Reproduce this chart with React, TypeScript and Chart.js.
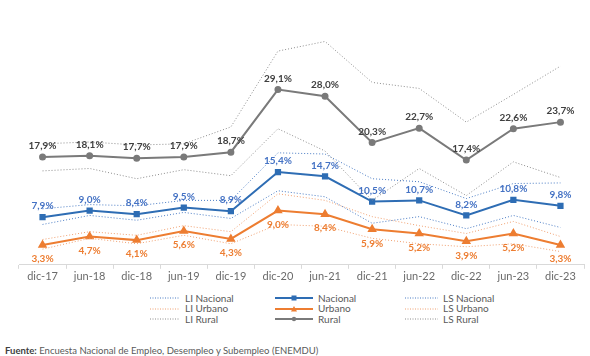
import React, { useEffect, useRef } from 'react';
import { Chart, registerables } from 'chart.js';
Chart.register(...registerables);

const categories = ['dic-17', 'jun-18', 'dic-18', 'jun-19', 'dic-19', 'dic-20', 'jun-21', 'dic-21', 'jun-22', 'dic-22', 'jun-23', 'dic-23'];

const nacional = [7.9, 9.0, 8.4, 9.5, 8.9, 15.4, 14.7, 10.5, 10.7, 8.2, 10.8, 9.8];
const urbano = [3.3, 4.7, 4.1, 5.6, 4.3, 9.0, 8.4, 5.9, 5.2, 3.9, 5.2, 3.3];
const rural = [17.9, 18.1, 17.7, 17.9, 18.7, 29.1, 28.0, 20.3, 22.7, 17.4, 22.6, 23.7];

const liNacional = [6.7, 8.2, 7.4, 8.7, 7.7, 12.3, 11.3, 6.9, 8.0, 6.0, 8.2, 6.2];
const lsNacional = [9.3, 10.0, 9.8, 10.7, 10.7, 18.6, 18.4, 14.3, 13.8, 11.0, 13.5, 13.6];
const liUrbano = [2.6, 4.4, 3.5, 4.9, 3.5, 6.7, 6.4, 4.4, 3.5, 3.0, 3.5, 2.2];
const lsUrbano = [4.2, 5.5, 4.9, 6.5, 5.5, 11.8, 10.7, 8.0, 6.5, 5.2, 7.2, 4.7];
const liRural = [15.6, 16.0, 14.3, 15.8, 14.8, 22.6, 18.9, 10.7, 16.0, 11.5, 17.1, 14.5];
const lsRural = [20.1, 20.4, 19.9, 20.1, 22.9, 35.5, 37.1, 30.3, 29.3, 23.7, 28.3, 33.0];

const BLUE = '#2e6db4';
const BLUE_LABEL = '#4472c4';
const BLUE_DOT = '#4a7cc4';
const ORANGE = '#ed7d31';
const ORANGE_DOT = '#f0a070';
const GRAY = '#7a7a7a';
const GRAY_DOT = '#8c8c8c';
const GRAY_LABEL = '#404040';
const FONT = 'Lato, "Open Sans", sans-serif';

const fmt = (v: number) => v.toFixed(1).replace('.', ',') + '%';

const labelPlugin = {
  id: 'valueLabels',
  afterDatasetsDraw(chart: any) {
    const ctx = chart.ctx;
    chart.data.datasets.forEach((ds: any, i: number) => {
      if (!ds.labelColor) return;
      const meta = chart.getDatasetMeta(i);
      meta.data.forEach((pt: any, j: number) => {
        ctx.save();
        ctx.font = 'bold 10px ' + FONT;
        ctx.fillStyle = ds.labelColor;
        ctx.textAlign = 'center';
        ctx.textBaseline = 'middle';
        ctx.fillText(fmt(ds.data[j]), pt.x, pt.y + ds.labelDy);
        ctx.restore();
      });
    });
  },
};

const dotted = (label: string, data: number[], color: string) => ({
  label,
  data,
  borderColor: color,
  borderWidth: 1,
  borderDash: [1, 2],
  pointRadius: 0,
  fill: false,
  tension: 0,
});

const legendCols = [
  [
    { label: 'LI Nacional', color: BLUE_DOT, dotted: true },
    { label: 'LI Urbano', color: ORANGE_DOT, dotted: true },
    { label: 'LI Rural', color: GRAY_DOT, dotted: true },
  ],
  [
    { label: 'Nacional', color: BLUE, marker: 'rect' },
    { label: 'Urbano', color: ORANGE, marker: 'tri' },
    { label: 'Rural', color: GRAY, marker: 'circle' },
  ],
  [
    { label: 'LS Nacional', color: BLUE_DOT, dotted: true },
    { label: 'LS Urbano', color: ORANGE_DOT, dotted: true },
    { label: 'LS Rural', color: GRAY_DOT, dotted: true },
  ],
];
const colLineX = [150, 275, 405];
const colLineW = [30, 38, 33];

function Sample({ item, w }: { item: any; w: number }) {
  const h = 10;
  const cy = h / 2;
  const cx = w / 2;
  return (
    <svg width={w} height={h} style={{ display: 'block' }}>
      {item.dotted ? (
        <line x1={0} y1={cy} x2={w} y2={cy} stroke={item.color} strokeWidth={1} strokeDasharray="1 1.5" />
      ) : (
        <line x1={0} y1={cy} x2={w} y2={cy} stroke={item.color} strokeWidth={2} />
      )}
      {item.marker === 'rect' && <rect x={cx - 2.5} y={cy - 2.5} width={5} height={5} fill={item.color} />}
      {item.marker === 'tri' && <polygon points={`${cx},${cy - 3} ${cx + 3},${cy + 2.5} ${cx - 3},${cy + 2.5}`} fill={item.color} />}
      {item.marker === 'circle' && <circle cx={cx} cy={cy} r={2.2} fill={item.color} />}
    </svg>
  );
}

export default function App() {
  const ref = useRef<HTMLCanvasElement>(null);
  useEffect(() => {
    if (!ref.current) return;
    const chart = new Chart(ref.current, {
      type: 'line',
      data: {
        labels: categories,
        datasets: [
          dotted('LS Rural', lsRural, GRAY_DOT),
          dotted('LI Rural', liRural, GRAY_DOT),
          dotted('LS Nacional', lsNacional, BLUE_DOT),
          dotted('LI Nacional', liNacional, BLUE_DOT),
          dotted('LS Urbano', lsUrbano, ORANGE_DOT),
          dotted('LI Urbano', liUrbano, ORANGE_DOT),
          {
            label: 'Rural',
            data: rural,
            borderColor: GRAY,
            backgroundColor: GRAY,
            borderWidth: 2,
            pointStyle: 'circle',
            pointRadius: 2.5,
            labelColor: GRAY_LABEL,
            labelDy: -11,
          } as any,
          {
            label: 'Nacional',
            data: nacional,
            borderColor: BLUE,
            backgroundColor: BLUE,
            borderWidth: 2,
            pointStyle: 'rect',
            pointRadius: 3,
            labelColor: BLUE_LABEL,
            labelDy: -11,
          } as any,
          {
            label: 'Urbano',
            data: urbano,
            borderColor: ORANGE,
            backgroundColor: ORANGE,
            borderWidth: 2,
            pointStyle: 'triangle',
            pointRadius: 3.5,
            labelColor: ORANGE,
            labelDy: 14,
          } as any,
        ],
      },
      options: {
        animation: false,
        responsive: false,
        maintainAspectRatio: false,
        layout: { padding: { left: 19, right: 6, top: 24, bottom: 6 } },
        plugins: { legend: { display: false }, tooltip: { enabled: false } },
        scales: {
          x: {
            offset: true,
            border: { display: true, color: '#d9d9d9', width: 1 },
            grid: { display: true, drawOnChartArea: false, offset: true, tickLength: 4, color: '#d9d9d9' },
            ticks: { color: '#6b6b6b', font: { family: FONT, size: 11 }, padding: 1, maxRotation: 0 },
          },
          y: { display: false, min: 0, max: 40 },
        },
      },
      plugins: [labelPlugin],
    });
    return () => chart.destroy();
  }, []);

  const rowY = [292.5, 303, 313.5];
  return (
    <div style={{ position: 'absolute', left: 0, top: 0, width: 590, height: 356, background: '#fff', fontFamily: FONT, overflow: 'hidden' }}>
      <canvas ref={ref} width={590} height={290} style={{ position: 'absolute', left: 0, top: 0 }} />
      {legendCols.map((col, ci) =>
        col.map((item, ri) => (
          <div key={ci + '-' + ri} style={{ position: 'absolute', left: colLineX[ci], top: rowY[ri], display: 'flex', alignItems: 'center', height: 11 }}>
            <Sample item={item} w={colLineW[ci]} />
            <span style={{ marginLeft: 5, fontSize: 10, color: '#595959', lineHeight: '11px', whiteSpace: 'nowrap' }}>{item.label}</span>
          </div>
        ))
      )}
      <div style={{ position: 'absolute', left: 5, top: 345, fontSize: 9.5, color: '#595959', whiteSpace: 'nowrap' }}>
        <span style={{ fontWeight: 'bold', color: '#404040' }}>Fuente:</span> Encuesta Nacional de Empleo, Desempleo y Subempleo (ENEMDU)
      </div>
    </div>
  );
}
